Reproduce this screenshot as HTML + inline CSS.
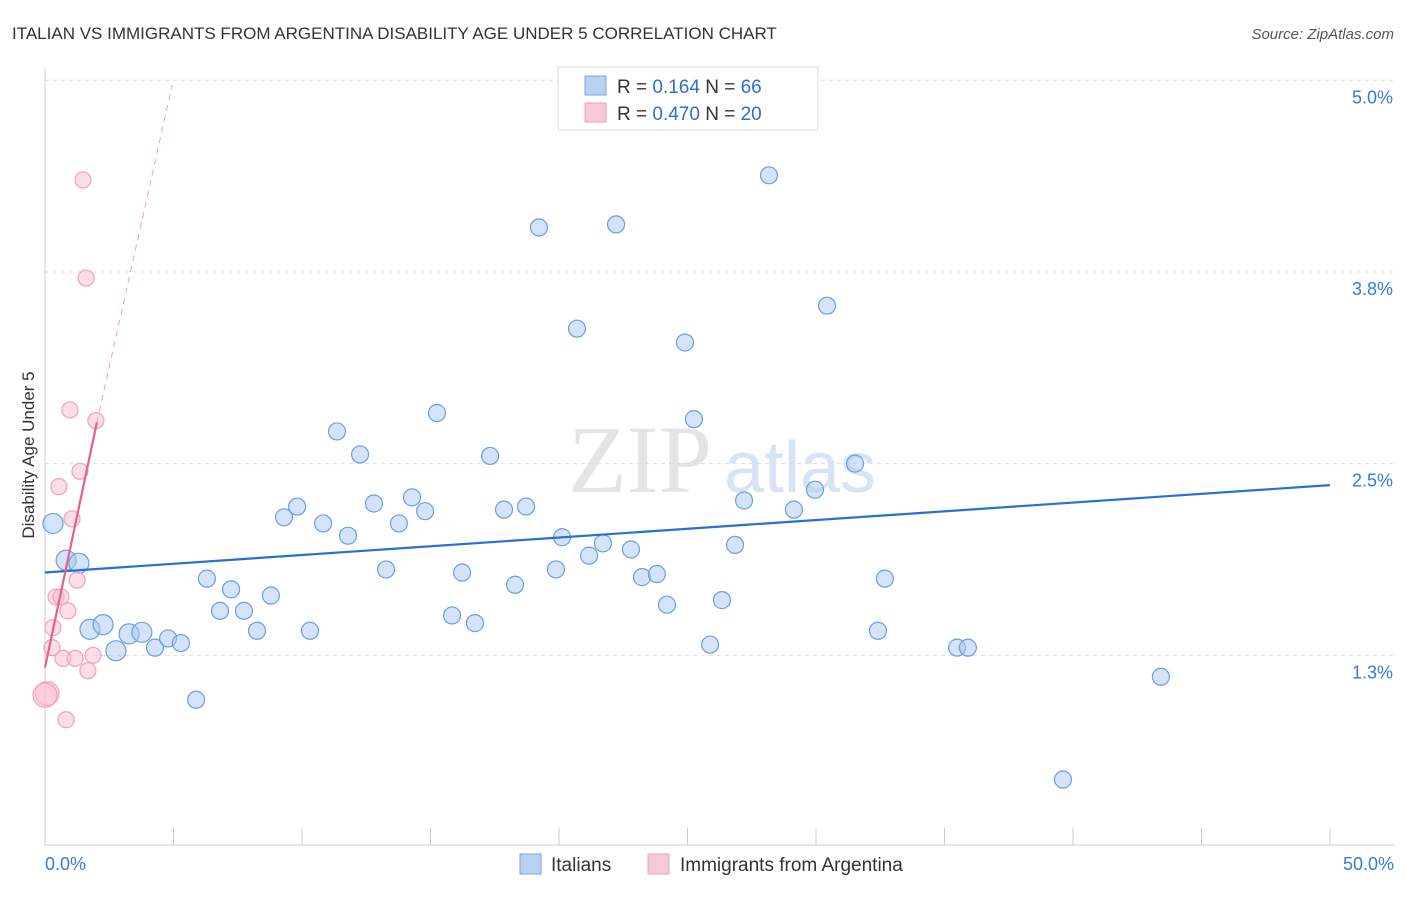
<!DOCTYPE html>
<html><head><meta charset="utf-8"><style>
body{margin:0;background:#fff;font-family:"Liberation Sans",sans-serif;}
</style></head><body>
<svg id="c" width="1406" height="892" xmlns="http://www.w3.org/2000/svg">
<text x="12" y="39" font-size="17" fill="#333">ITALIAN VS IMMIGRANTS FROM ARGENTINA DISABILITY AGE UNDER 5 CORRELATION CHART</text>
<text x="1394" y="39" font-size="15" fill="#555" font-style="italic" text-anchor="end">Source: ZipAtlas.com</text>
<text x="640" y="492" font-size="96" fill="#e4e4e4" font-family="Liberation Serif,serif" text-anchor="middle">ZIP</text>
<text x="800" y="492" font-size="72" fill="#d6e4f4" text-anchor="middle">atlas</text>
<text transform="translate(34,455) rotate(-90)" font-size="17" fill="#333" text-anchor="middle">Disability Age Under 5</text>
<g id="grid"></g><g id="marks"></g>
<g>
<rect x="558" y="67" width="260" height="63" fill="#fff" stroke="#ddd"/>
<rect x="585" y="76" width="21" height="19" fill="#b8d2f4" stroke="#7aa6e0"/>
<text x="617" y="93" font-size="19" fill="#333">R = <tspan fill="#2f6fd0">0.164</tspan>   N = <tspan fill="#2f6fd0">66</tspan></text>
<rect x="585" y="103" width="21" height="19" fill="#f9c8d6" stroke="#f0a0b8"/>
<text x="617" y="120" font-size="19" fill="#333">R = <tspan fill="#2f6fd0">0.470</tspan>   N = <tspan fill="#2f6fd0">20</tspan></text>
</g>
<g>
<rect x="520" y="854" width="21" height="20" fill="#b8d2f4" stroke="#7aa6e0"/>
<text x="551" y="871" font-size="19" fill="#333">Italians</text>
<rect x="648" y="854" width="21" height="20" fill="#f9c8d6" stroke="#f0a0b8"/>
<text x="680" y="871" font-size="19" fill="#333">Immigrants from Argentina</text>
</g>
</svg>
<script>
const yTicks=[1.25,2.5,3.75,5.0];
const yTickLabels=["1.3%","2.5%","3.8%","5.0%"];
const xTickLabels=["0.0%","50.0%"];
const blueX=[0.31,0.82,1.32,1.75,2.26,2.76,3.27,3.77,4.28,4.79,5.29,5.88,6.30,6.81,7.24,7.74,8.25,8.79,9.30,9.81,10.31,10.82,11.36,11.79,12.26,12.80,13.27,13.77,14.28,14.79,15.25,15.84,16.23,16.73,17.32,17.86,18.29,18.72,19.22,19.88,20.12,20.70,21.17,21.71,22.22,22.80,23.23,23.81,24.20,24.90,25.25,25.88,26.34,26.85,27.20,28.17,29.14,29.96,30.43,31.52,32.41,32.68,35.49,35.91,39.61,43.42];
const blueY=[2.11,1.87,1.85,1.42,1.45,1.28,1.39,1.40,1.30,1.36,1.33,0.96,1.75,1.54,1.68,1.54,1.41,1.64,2.15,2.22,1.41,2.11,2.71,2.03,2.56,2.24,1.81,2.11,2.28,2.19,2.83,1.51,1.79,1.46,2.55,2.20,1.71,2.22,4.04,1.81,2.02,3.38,1.90,1.98,4.06,1.94,1.76,1.78,1.58,3.29,2.79,1.32,1.61,1.97,2.26,4.38,2.20,2.33,3.53,2.50,1.41,1.75,1.30,1.30,0.44,1.11];
const pinkX=[0.08,0.31,0.43,0.54,0.62,0.70,0.82,0.89,0.97,1.05,1.17,1.25,1.36,1.48,1.60,1.67,1.87,1.98,0.27,0];
const pinkY=[1.00,1.43,1.63,2.35,1.63,1.23,0.83,1.54,2.85,2.14,1.23,1.74,2.45,4.35,3.71,1.15,1.25,2.78,1.30,0.99];
const blueTrend=[[0,1.79],[50,2.36]];
const pinkTrend=[[0,1.17],[2.02,2.77]];
const pinkDash=[[2.02,2.77],[4.95,4.97]];
const sx=v=>45+v/50*1285, sy=v=>847-v*153.35;
const NS="http://www.w3.org/2000/svg";
function mk(t,a,p){const e=document.createElementNS(NS,t);for(const k in a)e.setAttribute(k,a[k]);p.appendChild(e);return e;}
const g=document.getElementById('grid'), m=document.getElementById('marks');
mk('line',{x1:45,y1:68,x2:45,y2:845,stroke:'#ccc'},g);
mk('line',{x1:45,y1:845,x2:1394,y2:845,stroke:'#ccc'},g);
for(let i=0;i<=10;i++){const l=mk('line',{x1:45+i*128.5,y1:828,x2:45+i*128.5,y2:845,stroke:'#ccc'},g);

}
yTicks.forEach((v,i)=>{const l=mk('line',{x1:45,y1:sy(v),x2:1394,y2:sy(v),stroke:'#ddd','stroke-dasharray':'4,4'},g);


const t=mk('text',{x:1393,y:sy(v)+23,'font-size':18,fill:'#3b78d8','text-anchor':'end'},g);t.textContent=yTickLabels[i];

});
[[0,'start'],[50,'end']].forEach((d,i)=>{const t=mk('text',{x:i?1394:45,y:870,'font-size':18,fill:'#3b78d8','text-anchor':d[1]},g);t.textContent=xTickLabels[i];

});
blueX.forEach((x,i)=>{const c=mk('circle',{cx:sx(x),cy:sy(blueY[i]),r:(x<4?10:8.5),fill:'rgba(170,200,242,0.5)',stroke:'#6c9ee0','stroke-width':1.2},m);

});
pinkX.forEach((x,i)=>{const c=mk('circle',{cx:sx(x),cy:sy(pinkY[i]),r:(i===0||i===19?12:8),fill:'rgba(249,190,208,0.5)',stroke:'#f0a0b8','stroke-width':1.2},m);

});
let l=mk('line',{x1:sx(blueTrend[0][0]),y1:sy(blueTrend[0][1]),x2:sx(blueTrend[1][0]),y2:sy(blueTrend[1][1]),stroke:'#2a6fd4','stroke-width':2.2},m);


l=mk('line',{x1:sx(pinkTrend[0][0]),y1:sy(pinkTrend[0][1]),x2:sx(pinkTrend[1][0]),y2:sy(pinkTrend[1][1]),stroke:'#e8608a','stroke-width':2.2},m);


l=mk('line',{x1:sx(pinkDash[0][0]),y1:sy(pinkDash[0][1]),x2:sx(pinkDash[1][0]),y2:sy(pinkDash[1][1]),stroke:'#f0a0b8','stroke-width':1,'stroke-dasharray':'6,5'},m);


</script>
</body></html>
